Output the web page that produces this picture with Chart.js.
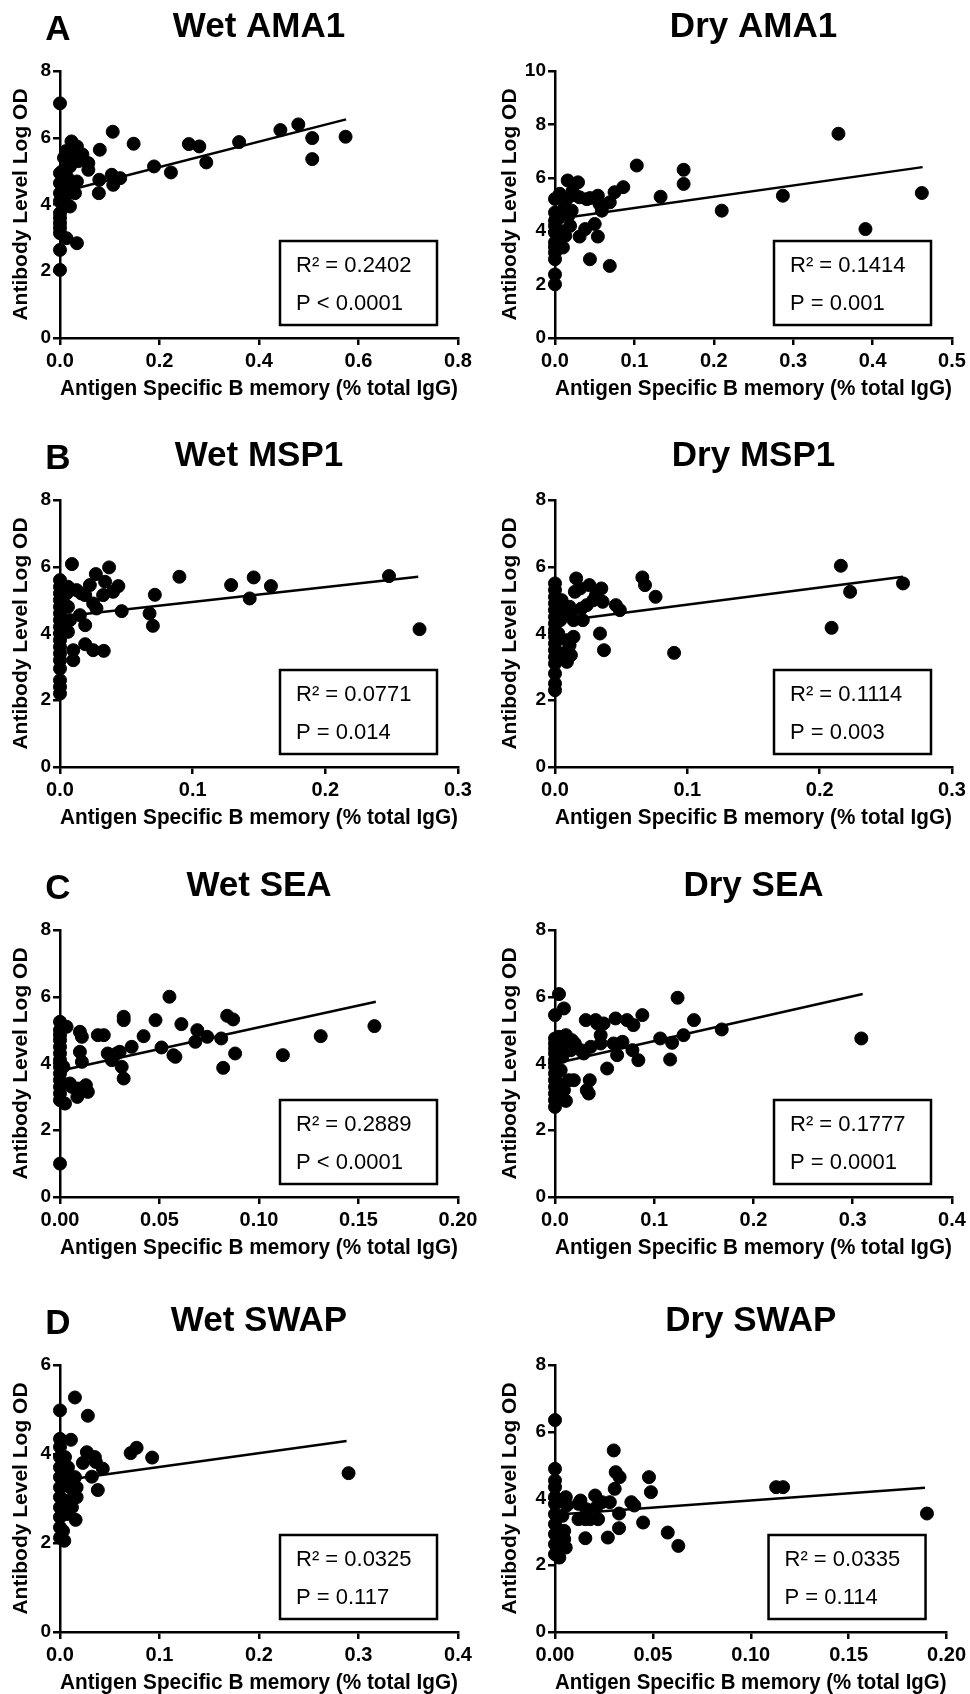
<!DOCTYPE html>
<html>
<head>
<meta charset="utf-8">
<script src="https://cdn.jsdelivr.net/npm/chart.js@4.4.0/dist/chart.umd.min.js"></script>
<style>
  body { margin: 0; width: 970px; height: 1694px; overflow: hidden; background: #fff; }
  .cell { position: absolute; width: 485px; height: 405px; }
</style>
</head>
<body>
<script>
// ---- data: [B memory %, log OD] ----
var wetAMA1 = [
  [0, 7.03], [0, 2.64], [0, 2.04], [0, 3.14], [0, 3.3], [0, 3.44], [0, 3.6], [0, 3.74], [0, 4.1], [0, 4.34], [0, 4.64], [0, 4.94],
  [0.003, 4.04], [0.005, 5.0], [0.006, 4.5], [0.008, 5.4], [0.01, 4.54], [0.01, 4.2], [0.012, 5.6], [0.013, 5.44], [0.013, 2.99],
  [0.015, 4.8], [0.017, 5.2], [0.02, 5.14], [0.02, 3.94], [0.023, 5.89], [0.025, 5.5], [0.027, 4.6], [0.03, 4.34], [0.03, 5.6],
  [0.034, 5.74], [0.034, 4.69], [0.034, 2.84], [0.037, 5.3], [0.04, 5.44], [0.045, 5.5], [0.057, 5.24], [0.057, 5.04],
  [0.08, 5.64], [0.079, 4.74], [0.078, 4.34], [0.106, 6.18], [0.104, 4.89], [0.107, 4.59], [0.121, 4.79], [0.148, 5.82],
  [0.189, 5.14], [0.223, 4.96], [0.259, 5.81], [0.28, 5.74], [0.294, 5.26], [0.36, 5.87], [0.443, 6.23], [0.479, 6.4],
  [0.507, 5.99], [0.507, 5.36], [0.574, 6.03]
];
var dryAMA1 = [
  [0, 2.01], [0, 2.38], [0, 2.95], [0, 3.2], [0, 3.4], [0, 3.58], [0, 3.95], [0, 4.2], [0, 4.39], [0, 4.7], [0, 5.21],
  [0.005, 4.5], [0.006, 5.4], [0.008, 4.0], [0.01, 3.39], [0.012, 4.9], [0.013, 3.83], [0.015, 5.21], [0.016, 5.9],
  [0.017, 4.58], [0.019, 4.2], [0.021, 4.77], [0.022, 5.5], [0.025, 5.35], [0.029, 5.83], [0.031, 5.27], [0.031, 3.8],
  [0.038, 4.08], [0.04, 5.2], [0.044, 5.24], [0.044, 2.95], [0.05, 4.27], [0.054, 5.33], [0.054, 3.8], [0.056, 5.02],
  [0.059, 4.77], [0.069, 2.7], [0.069, 5.08], [0.075, 5.46], [0.086, 5.65], [0.103, 6.46], [0.133, 5.29], [0.162, 6.3],
  [0.162, 5.77], [0.21, 4.77], [0.287, 5.33], [0.357, 7.65], [0.391, 4.08], [0.462, 5.43]
];
var wetMSP1 = [
  [0, 5.6], [0, 5.4], [0, 5.2], [0, 5.0], [0, 4.8], [0, 4.6], [0, 4.4], [0, 4.2], [0, 4.0], [0, 3.8], [0, 3.6], [0, 3.4],
  [0, 3.2], [0, 2.95], [0, 2.6], [0, 2.4], [0, 2.2],
  [0.009, 6.08], [0.006, 5.4], [0.005, 5.2], [0.006, 4.8], [0.0075, 4.4], [0.006, 4.05], [0.01, 3.5], [0.01, 3.2],
  [0.0125, 5.3], [0.016, 5.2], [0.019, 5.15], [0.015, 4.55], [0.019, 4.25], [0.019, 3.68], [0.025, 3.5], [0.033, 3.48],
  [0.0225, 5.45], [0.027, 5.78], [0.025, 4.9], [0.0275, 4.75], [0.0325, 5.15], [0.034, 5.55], [0.037, 5.98], [0.04, 5.25],
  [0.044, 5.42], [0.0465, 4.67], [0.0675, 4.6], [0.07, 4.23], [0.0715, 5.16], [0.09, 5.7], [0.129, 5.45], [0.143, 5.05],
  [0.146, 5.68], [0.159, 5.42], [0.248, 5.72], [0.271, 4.13]
];
var dryMSP1 = [
  [0, 5.5], [0, 5.3], [0, 5.1], [0, 4.9], [0, 4.7], [0, 4.5], [0, 4.3], [0, 4.1], [0, 3.9], [0, 3.7], [0, 3.5], [0, 3.3],
  [0, 3.1], [0, 2.8], [0, 2.5], [0, 2.3],
  [0.005, 5.0], [0.005, 4.7], [0.004, 4.4], [0.0025, 4.0], [0.005, 3.4], [0.009, 3.8], [0.01, 3.5], [0.009, 3.15],
  [0.012, 3.35], [0.011, 3.65], [0.011, 4.8], [0.0125, 4.6], [0.014, 4.4], [0.014, 3.9], [0.016, 5.65], [0.015, 5.25],
  [0.019, 5.35], [0.02, 4.75], [0.021, 4.4], [0.024, 4.85], [0.026, 5.45], [0.029, 5.0], [0.031, 5.15], [0.035, 5.35],
  [0.036, 4.95], [0.034, 4.0], [0.037, 3.5], [0.046, 4.85], [0.049, 4.7], [0.066, 5.68], [0.068, 5.45], [0.076, 5.1],
  [0.09, 3.42], [0.209, 4.17], [0.216, 6.03], [0.223, 5.25], [0.263, 5.5]
];
var wetSEA = [
  [0, 5.25], [0, 5.0], [0, 4.85], [0, 4.7], [0, 4.5], [0, 4.3], [0, 4.1], [0, 3.9], [0, 3.7], [0, 3.5], [0, 3.3], [0, 3.1],
  [0, 2.9], [0, 1.0],
  [0.0025, 2.8], [0.0033, 5.1], [0.0017, 3.9], [0.005, 3.4], [0.006, 3.3], [0.0087, 3.0], [0.0092, 3.25], [0.01, 4.95],
  [0.011, 4.8], [0.01, 4.35], [0.011, 4.05], [0.013, 3.35], [0.014, 3.15], [0.019, 4.85], [0.022, 4.85], [0.024, 4.3],
  [0.026, 4.1], [0.0285, 4.3], [0.03, 4.35], [0.031, 3.9], [0.032, 3.55], [0.032, 5.4], [0.032, 5.3], [0.036, 4.5],
  [0.042, 4.82], [0.048, 5.3], [0.051, 4.48], [0.055, 6.0], [0.057, 4.25], [0.058, 4.2], [0.061, 5.18], [0.068, 4.65],
  [0.069, 5.0], [0.074, 4.8], [0.081, 4.75], [0.082, 3.87], [0.084, 5.43], [0.087, 5.32], [0.088, 4.3], [0.112, 4.25],
  [0.131, 4.82], [0.158, 5.12]
];
var drySEA = [
  [0, 5.45], [0, 4.75], [0, 4.6], [0, 4.45], [0, 4.3], [0, 4.1], [0, 3.9], [0, 3.7], [0, 3.5], [0, 3.3], [0, 3.1], [0, 2.9],
  [0, 2.7],
  [0.004, 6.08], [0.009, 5.65], [0.004, 4.8], [0.0057, 4.5], [0.0074, 4.2], [0.0057, 3.8], [0.004, 3.4], [0.004, 3.0],
  [0.0074, 3.2], [0.011, 4.85], [0.012, 4.6], [0.016, 4.4], [0.017, 4.7], [0.014, 3.5], [0.019, 3.5], [0.009, 3.2],
  [0.011, 2.88], [0.02, 4.6], [0.026, 4.4], [0.029, 4.3], [0.031, 5.3], [0.032, 3.2], [0.034, 3.1], [0.035, 3.5],
  [0.036, 4.5], [0.041, 5.3], [0.0425, 5.2], [0.046, 4.6], [0.046, 4.85], [0.049, 5.2], [0.0525, 3.85], [0.059, 4.6],
  [0.061, 5.35], [0.0626, 4.25], [0.068, 4.65], [0.0726, 5.3], [0.079, 5.15], [0.078, 4.4], [0.084, 4.1], [0.088, 5.45],
  [0.106, 4.75], [0.116, 4.12], [0.118, 4.62], [0.1235, 5.97], [0.1295, 4.85], [0.14, 5.3], [0.168, 5.02], [0.3086, 4.75]
];
var wetSWAP = [
  [0, 4.98], [0, 4.34], [0, 4.16], [0, 3.93], [0, 3.7], [0, 3.48], [0, 3.25], [0, 3.03], [0, 2.8], [0, 2.58], [0, 2.35],
  [0, 2.12],
  [0.0043, 2.05], [0.003, 2.27], [0.015, 5.27], [0.028, 4.86], [0.011, 4.32], [0.005, 3.93], [0.008, 3.7], [0.0067, 3.48],
  [0.01, 3.25], [0.008, 2.95], [0.012, 2.8], [0.0067, 2.65], [0.015, 3.48], [0.0167, 3.25], [0.0167, 3.03], [0.0157, 2.52],
  [0.023, 3.8], [0.027, 4.04], [0.032, 3.49], [0.035, 3.93], [0.036, 3.82], [0.038, 3.19], [0.043, 3.67], [0.071, 4.02],
  [0.077, 4.14], [0.0926, 3.92], [0.29, 3.57]
];
var drySWAP = [
  [0, 6.35], [0, 4.89], [0, 4.54], [0, 4.34], [0, 4.04], [0, 3.84], [0, 3.53], [0, 3.23], [0, 2.93], [0, 2.63], [0, 2.33],
  [0.0022, 2.23], [0.003, 2.48], [0.0055, 4.04], [0.006, 3.79], [0.0038, 3.48], [0.0047, 3.03], [0.0047, 2.78],
  [0.0055, 2.53], [0.012, 3.84], [0.013, 3.94], [0.012, 3.38], [0.0155, 3.38], [0.0155, 2.81], [0.016, 3.68], [0.018, 3.38],
  [0.0205, 4.09], [0.021, 3.73], [0.022, 3.38], [0.024, 3.89], [0.027, 2.83], [0.028, 3.89], [0.03, 5.44], [0.0305, 4.29],
  [0.031, 4.79], [0.033, 4.64], [0.0327, 3.55], [0.0327, 3.11], [0.039, 3.89], [0.0405, 3.79], [0.045, 3.28], [0.048, 4.64],
  [0.049, 4.19], [0.0576, 2.98], [0.063, 2.58], [0.113, 4.34], [0.1165, 4.34], [0.19, 3.55]
];

// regression line end points
var fitLines = [
  [[0, 4.36], [0.575, 6.55]],
  [[0, 4.45], [0.463, 6.4]],
  [[0, 4.5], [0.27, 5.7]],
  [[0, 4.35], [0.263, 5.7]],
  [[0, 3.78], [0.1587, 5.85]],
  [[0, 4.0], [0.31, 6.08]],
  [[0, 3.4], [0.288, 4.29]],
  [[0, 3.51], [0.189, 4.32]]
];

var panelData = [wetAMA1, dryAMA1, wetMSP1, dryMSP1, wetSEA, drySEA, wetSWAP, drySWAP];
var panelTitles = ["Wet AMA1", "Dry AMA1", "Wet MSP1", "Dry MSP1", "Wet SEA", "Dry SEA", "Wet SWAP", "Dry SWAP"];
var panelLetters = ["A", "", "B", "", "C", "", "D", ""];
var r2Labels = ["R\u00B2 = 0.2402", "R\u00B2 = 0.1414", "R\u00B2 = 0.0771", "R\u00B2 = 0.1114",
                "R\u00B2 = 0.2889", "R\u00B2 = 0.1777", "R\u00B2 = 0.0325", "R\u00B2 = 0.0335"];
var pLabels = ["P < 0.0001", "P = 0.001", "P = 0.014", "P = 0.003", "P < 0.0001", "P = 0.0001", "P = 0.117", "P = 0.114"];
var xMax = [0.8, 0.5, 0.3, 0.3, 0.2, 0.4, 0.4, 0.2];
var xStep = [0.2, 0.1, 0.1, 0.1, 0.05, 0.1, 0.1, 0.05];
var xDecimals = [1, 1, 1, 1, 2, 1, 1, 2];
var yMax = [8, 10, 8, 8, 8, 8, 6, 8];
var xTitle = "Antigen Specific B memory (% total IgG)";
var yTitle = "Antibody Level Log OD";

// layout
var rowTops = [0, 429, 859, 1294];
var FONT = '"Liberation Sans", Arial, Helvetica, sans-serif';

// draws panel title, letter and the R²/P box
var panelDecor = {
  id: "panelDecor",
  afterDraw: function (chart) {
    var o = chart.options.plugins.panelDecor;
    var a = chart.chartArea;
    var ctx = chart.ctx;
    ctx.save();
    ctx.fillStyle = "#000";
    ctx.textBaseline = "middle";
    ctx.textAlign = "center";
    ctx.font = "bold 35px " + FONT;
    ctx.fillText(o.title, (a.left + a.right) / 2, a.top - 44);
    if (o.letter) ctx.fillText(o.letter, 58, a.top - 41);

    var bw = 157, bh = 84;
    var bx = a.right - 21 - bw;
    var by = a.bottom - 13 - bh;
    ctx.lineWidth = 2.5;
    ctx.strokeStyle = "#000";
    ctx.strokeRect(bx, by, bw, bh);
    ctx.textAlign = "left";
    ctx.font = "22px " + FONT;
    ctx.fillText(o.r2, bx + 16, by + 25);
    ctx.fillText(o.p, bx + 16, by + 63);
    ctx.restore();
  }
};

function toPoints(arr) {
  return arr.map(function (p) { return { x: p[0], y: p[1] }; });
}

for (var i = 0; i < 8; i++) {
  var col = i % 2;
  var row = Math.floor(i / 2);
  var cell = document.createElement("div");
  cell.className = "cell";
  cell.style.left = (col * 485) + "px";
  cell.style.top = rowTops[row] + "px";
  var canvas = document.createElement("canvas");
  cell.appendChild(canvas);
  document.body.appendChild(cell);

  var yWidth = col === 0 ? 50 : 56;
  var dec = xDecimals[i];

  new Chart(canvas.getContext("2d"), {
    type: "scatter",
    data: {
      datasets: [
        {
          data: toPoints(panelData[i]),
          backgroundColor: "#000",
          borderColor: "#000",
          pointRadius: 6.5,
          pointHoverRadius: 6.5,
          clip: false
        },
        {
          type: "line",
          data: toPoints(fitLines[i]),
          borderColor: "#000",
          borderWidth: 2.5,
          pointRadius: 0,
          fill: false,
          clip: false
        }
      ]
    },
    options: {
      responsive: true,
      maintainAspectRatio: false,
      animation: false,
      layout: { padding: { top: 71, left: col === 0 ? 9 : 13, right: col === 0 ? 27 : 18, bottom: 3 } },
      plugins: {
        legend: { display: false },
        tooltip: { enabled: false },
        panelDecor: { title: panelTitles[i], letter: panelLetters[i], r2: r2Labels[i], p: pLabels[i] }
      },
      scales: {
        x: {
          type: "linear",
          min: 0,
          max: xMax[i],
          afterFit: function (s) { s.height = 64; },
          border: { display: true, color: "#000", width: 2.5 },
          grid: { drawOnChartArea: false, drawTicks: true, tickLength: 7, color: "#000", lineWidth: 2.5 },
          ticks: {
            stepSize: xStep[i],
            padding: 4,
            color: "#000",
            font: { family: FONT, size: 20, weight: "bold" },
            callback: (function (d) { return function (v) { return Number(v).toFixed(d); }; })(dec)
          },
          title: {
            display: true,
            text: xTitle,
            color: "#000",
            padding: 0,
            font: { family: FONT, size: 21.5, weight: "bold" }
          }
        },
        y: {
          type: "linear",
          min: 0,
          max: yMax[i],
          afterFit: (function (w) { return function (s) { s.width = w; }; })(col === 0 ? 51 : 57),
          border: { display: true, color: "#000", width: 2.5 },
          grid: { drawOnChartArea: false, drawTicks: true, tickLength: 7, color: "#000", lineWidth: 2.5 },
          ticks: {
            stepSize: 2,
            padding: 2,
            color: "#000",
            font: { family: FONT, size: 19, weight: "bold" }
          },
          title: {
            display: true,
            text: yTitle,
            color: "#000",
            padding: 0,
            font: { family: FONT, size: 21, weight: "bold" }
          }
        }
      }
    },
    plugins: [panelDecor]
  });
}
</script>
</body>
</html>
